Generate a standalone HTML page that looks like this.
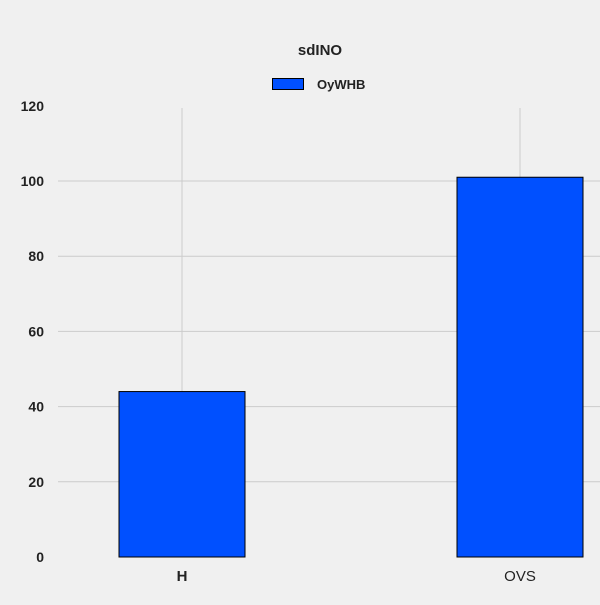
<!DOCTYPE html>
<html><head><meta charset="utf-8"><style>
body{margin:0;background:#f0f0f0;}
svg text{font-family:"Liberation Sans",sans-serif;fill:#222;}
</style></head><body>
<svg id="c" width="600" height="600">
<rect width="600" height="600" fill="#f0f0f0"/>
<text x="320" y="55" text-anchor="middle" font-size="15" font-weight="bold">sdINO</text>
<g>
<rect x="272.5" y="78.5" width="31" height="11" fill="#0050ff" stroke="#000" stroke-width="1"/>
<text x="317" y="89" font-size="13" font-weight="bold">OyWHB</text>
</g>
<g id="grid"></g><g id="bars"></g><g id="axes"></g>
</svg>
<script>
const categories = ["H", "OVS"];
const values = [44, 101];
const yTicks = [0, 20, 40, 60, 80, 100, 120];
const svg = document.getElementById('c');
const NS = 'http://www.w3.org/2000/svg';
const y0 = 557, yPer = 3.76;
function yScale(v){ return y0 - v * yPer; }
function xScale(i){ return 182 + i * 338; }
const bw = 127;
const grid = document.getElementById('grid'), bars = document.getElementById('bars'), axes = document.getElementById('axes');
function mk(tag, attrs, parent){ const e=document.createElementNS(NS,tag); for(const k in attrs) e.setAttribute(k,attrs[k]); parent.appendChild(e); return e; }
yTicks.forEach(t=>{
  const y = yScale(t);
  if(t>0 && t<120){
    const l = mk('line',{x1:58,x2:600,y1:y,y2:y,stroke:'#cbcbcb','stroke-width':1},grid);
    
    
  }
  const tx = mk('text',{x:44,y:y+5,'text-anchor':'end','font-size':'14','font-weight':'bold'},axes);
  tx.textContent = t;
  
  
});
categories.forEach((c,i)=>{
  const x = xScale(i);
  const g = mk('line',{x1:x,x2:x,y1:108,y2:y0,stroke:'#cbcbcb','stroke-width':1},grid);
  
  
  const b = mk('rect',{x:x-bw/2+0.5,y:yScale(values[i]),width:bw-1,height:y0-yScale(values[i]),fill:'#0050ff',stroke:'#000','stroke-width':1},bars);
  
  
  const tx = mk('text',{x:x,y:581,'text-anchor':'middle','font-size':'15','font-weight':i===0?'bold':'normal'},axes);
  tx.textContent = c;
  
  
});
</script>
</body></html>
